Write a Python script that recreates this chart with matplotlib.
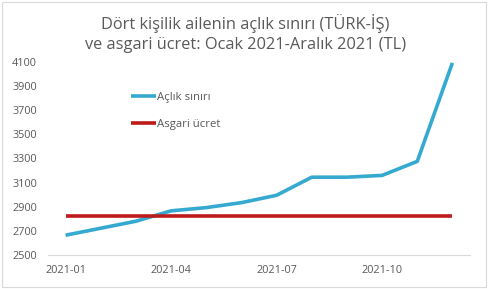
import matplotlib.pyplot as plt
from matplotlib.patches import Rectangle

months = ['2021-01', '2021-02', '2021-03', '2021-04', '2021-05', '2021-06',
          '2021-07', '2021-08', '2021-09', '2021-10', '2021-11', '2021-12']
aclik_siniri = [2664, 2722, 2780, 2866, 2893, 2934, 2995, 3145, 3145, 3160, 3276, 4093]
asgari_ucret = [2825.90] * 12
yticks = [2500, 2700, 2900, 3100, 3300, 3500, 3700, 3900, 4100]

plt.rcParams['font.family'] = ['Open Sans', 'DejaVu Sans']

fig = plt.figure(figsize=(4.91, 2.89), dpi=100)
ax = fig.add_axes([48 / 491, 1 - 255 / 289, 422 / 491, 193 / 289])

x = list(range(len(months)))
ax.plot(x, aclik_siniri, color='#35A9CF', lw=2.6, label='Açlık sınırı',
        solid_capstyle='butt')
ax.plot(x, asgari_ucret, color='#BE1A1A', lw=2.6, label='Asgari ücret',
        solid_capstyle='butt')

ax.set_xlim(-0.5, 11.5)
ax.set_ylim(2500, 4100)
ax.set_yticks(yticks)
ax.set_xticks(x[::3])
ax.set_xticklabels(months[::3])
ax.tick_params(length=0, labelsize=7.8, colors='#595959', pad=7)
ax.tick_params(axis='y', pad=8)
for s in ['top', 'right', 'left']:
    ax.spines[s].set_visible(False)
ax.spines['bottom'].set_color('#D9D9D9')

fig.suptitle('Dört kişilik ailenin açlık sınırı (TÜRK-İŞ)\nve asgari ücret: Ocak 2021-Aralık 2021 (TL)',
             y=0.95, fontsize=11.8, color='#595959', linespacing=1.3)

leg = ax.legend(loc='upper left', bbox_to_anchor=(0.172, 0.9), frameon=False,
                fontsize=8.2, handlelength=2.2, handletextpad=0.1,
                labelspacing=1.45, labelcolor='#595959')

fig.patches.append(Rectangle((2 / 491, 2 / 289), 484 / 491, 285 / 289,
                             transform=fig.transFigure, fill=False,
                             edgecolor='#D9D9D9', lw=0.8))

fig.savefig('out.png', dpi=100)
plt.close()
